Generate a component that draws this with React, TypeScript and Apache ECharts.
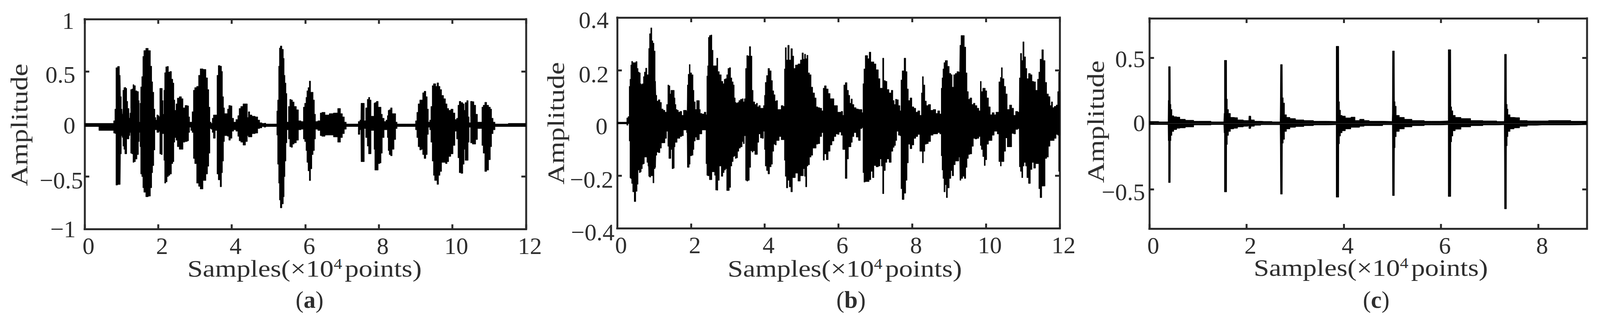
import React, { useEffect, useRef } from 'react';
import * as echarts from 'echarts';

// panel (a)
const samplesA = [0, 0.772, 0.804, 0.839, 0.863, 0.926, 0.968, 0.982, 1.017, 1.031, 1.049, 1.084, 1.101, 1.136, 1.154, 1.189, 1.227, 1.241, 1.259, 1.304, 1.322, 1.364, 1.399, 1.451, 1.476, 1.493, 1.514, 1.532, 1.574, 1.591, 1.626, 1.696, 1.766, 1.812, 1.836, 1.864, 1.899, 1.924, 1.949, 1.976, 2.018, 2.032, 2.053, 2.099, 2.124, 2.145, 2.162, 2.187, 2.222, 2.264, 2.292, 2.344, 2.379, 2.414, 2.439, 2.467, 2.502, 2.537, 2.607, 2.659, 2.694, 2.764, 2.817, 2.838, 2.869, 2.904, 2.939, 2.974, 3.009, 3.079, 3.114, 3.167, 3.272, 3.324, 3.359, 3.394, 3.422, 3.454, 3.482, 3.517, 3.587, 3.608, 3.657, 3.710, 3.734, 3.762, 3.790, 3.815, 3.867, 3.902, 3.937, 3.990, 4.025, 4.077,
  4.147, 4.182, 4.217, 4.270, 4.340, 4.410, 4.438, 4.463, 4.515, 4.585, 4.690, 4.725, 4.795, 4.848, 4.900, 4.953, 5.216, 5.233, 5.261, 5.286, 5.303, 5.338, 5.391, 5.415, 5.436, 5.461, 5.488, 5.513, 5.565, 5.590, 5.635, 5.670, 5.723, 5.793, 5.835, 5.933, 5.961, 6.003, 6.031, 6.055, 6.091, 6.126, 6.161, 6.196, 6.231, 6.266, 6.290, 6.388, 6.423, 6.476, 6.598, 6.703, 6.826, 6.931, 6.984, 7.036, 7.089, 7.141, 7.421, 7.456, 7.509, 7.519, 7.596, 7.614, 7.666, 7.701, 7.736, 7.771, 7.806, 7.859, 7.876, 7.901, 7.964, 7.999, 8.052, 8.069, 8.121, 8.167, 8.216, 8.244, 8.262, 8.297, 8.339, 8.384, 8.444, 8.472, 8.524, 8.979, 9.014, 9.049, 9.084, 9.137, 9.172, 9.207, 9.253, 9.302, 9.330, 9.364, 9.399, 9.428, 9.470, 9.498, 9.533, 9.558, 9.603, 9.645, 9.680, 9.732, 9.785, 9.838, 9.873, 9.925, 9.988, 10.048, 10.090, 10.135, 10.163, 10.205, 10.257, 10.310, 10.327, 10.362, 10.415, 10.443, 10.467, 10.520, 10.562, 10.607, 10.660, 10.702, 10.783, 10.818, 10.853, 10.905, 10.958, 11.011, 11.052, 11.080, 11.133, 11.185, 11.850, 12];
const upperA = [0.007, 0.007, 0.032, 0.143, 0.537, 0.550, 0.465, 0.261, 0.143, 0.094, 0.323, 0.348, 0.350, 0.341, 0.217, 0.149, 0.056, 0.106, 0.329, 0.335, 0.376, 0.366, 0.317, 0.310, 0.224, 0.019, 0.199, 0.354, 0.453, 0.645, 0.701, 0.722, 0.701, 0.552, 0.403, 0.304, 0.143, 0.063, 0.038, 0.087, 0.081, 0.069, 0.341, 0.341, 0.224, 0.094, 0.323, 0.490, 0.546, 0.550, 0.496, 0.502, 0.428, 0.391, 0.230, 0.131, 0.193, 0.248, 0.261, 0.242, 0.155, 0.178, 0.174, 0.069, 0.019, 0.019, 0.118, 0.323, 0.348, 0.360, 0.465, 0.527, 0.521, 0.441, 0.329, 0.162, 0.019, 0.007, 0.056, 0.087, 0.087, 0.465, 0.558, 0.552, 0.502, 0.261, 0.155, 0.100, 0.100, 0.143, 0.178, 0.174, 0.056, 0.019,
  0.044, 0.081, 0.149, 0.168, 0.193, 0.193, 0.063, 0.118, 0.087, 0.075, 0.069, 0.038, 0.013, 0.007, 0.009, 0.001, 0.001, 0.125, 0.230, 0.552, 0.725, 0.744, 0.713, 0.626, 0.465, 0.391, 0.292, 0.019, 0.168, 0.236, 0.230, 0.211, 0.168, 0.137, 0.032, 0.025, 0.162, 0.199, 0.255, 0.317, 0.348, 0.410, 0.304, 0.304, 0.230, 0.094, 0.025, 0.032, 0.106, 0.112, 0.087, 0.100, 0.106, 0.149, 0.100, 0.069, 0.019, 0.001, 0.001, 0.025, 0.038, 0.199, 0.199, 0.032, 0.155, 0.236, 0.255, 0.230, 0.075, 0.075, 0.199, 0.205, 0.217, 0.162, 0.162, 0.094, 0.056, 0.025, 0.038, 0.081, 0.131, 0.137, 0.155, 0.100, 0.100, 0.019, 0.001, 0.001, 0.032, 0.112, 0.193, 0.230, 0.230, 0.298, 0.313, 0.261, 0.143, 0.019, 0.038, 0.168, 0.366, 0.385, 0.385, 0.360, 0.393, 0.360, 0.329, 0.273, 0.242, 0.193, 0.149, 0.131, 0.143, 0.106, 0.044, 0.056, 0.180, 0.217, 0.205, 0.193, 0.131, 0.205, 0.224, 0.069, 0.013, 0.217, 0.214, 0.180, 0.094, 0.019, 0.019, 0.162, 0.180, 0.208, 0.180, 0.162, 0.143, 0.056, 0.019, 0.001, 0.007, 0.007];
const lowerA = [-0.024, -0.061, -0.086, -0.090, -0.582, -0.576, -0.576, -0.284, -0.111, -0.129, -0.210, -0.241, -0.284, -0.284, -0.142, -0.142, -0.111, -0.080, -0.278, -0.284, -0.365, -0.359, -0.334, -0.291, -0.167, -0.080, -0.216, -0.476, -0.501, -0.607, -0.650, -0.693, -0.687, -0.607, -0.464, -0.396, -0.247, -0.055, -0.055, -0.080, -0.080, -0.068, -0.284, -0.291, -0.092, -0.092, -0.346, -0.563, -0.551, -0.501, -0.489, -0.476, -0.377, -0.359, -0.173, -0.129, -0.154, -0.216, -0.241, -0.241, -0.173, -0.167, -0.160, -0.080, -0.030, -0.061, -0.080, -0.328, -0.377, -0.563, -0.594, -0.619, -0.538, -0.476, -0.402, -0.278, -0.043, -0.049, -0.080, -0.136, -0.061, -0.476, -0.532, -0.598, -0.464, -0.353, -0.167, -0.111, -0.111, -0.117, -0.154, -0.136, -0.068, -0.055,
  -0.068, -0.117, -0.160, -0.173, -0.201, -0.167, -0.111, -0.123, -0.123, -0.092, -0.086, -0.043, -0.037, -0.024, -0.030, -0.024, -0.024, -0.105, -0.383, -0.563, -0.724, -0.799, -0.761, -0.693, -0.501, -0.353, -0.179, -0.055, -0.142, -0.216, -0.222, -0.191, -0.179, -0.154, -0.055, -0.049, -0.142, -0.167, -0.253, -0.365, -0.446, -0.539, -0.427, -0.291, -0.253, -0.142, -0.049, -0.061, -0.111, -0.117, -0.105, -0.105, -0.123, -0.173, -0.129, -0.092, -0.049, -0.024, -0.024, -0.099, -0.055, -0.359, -0.359, -0.043, -0.129, -0.210, -0.284, -0.284, -0.061, -0.061, -0.241, -0.439, -0.439, -0.377, -0.371, -0.278, -0.129, -0.055, -0.055, -0.129, -0.253, -0.291, -0.303, -0.241, -0.148, -0.043, -0.024, -0.024, -0.055, -0.129, -0.216, -0.247, -0.241, -0.291, -0.328, -0.291, -0.099, -0.030, -0.055, -0.173, -0.353, -0.489, -0.538, -0.538, -0.575, -0.489, -0.452, -0.365, -0.365, -0.377, -0.359, -0.309, -0.284, -0.204, -0.068, -0.142, -0.322, -0.464, -0.470, -0.383, -0.241, -0.346, -0.346, -0.173, -0.030, -0.179, -0.191, -0.191, -0.148, -0.043, -0.043, -0.204, -0.278, -0.452, -0.439, -0.340, -0.216, -0.092, -0.055, -0.024, -0.024, -0.024];

// panel (b)
const samplesB = [0, 0.246, 0.271, 0.316, 0.334, 0.358, 0.379, 0.403, 0.438, 0.484, 0.526, 0.554, 0.582, 0.613, 0.641, 0.665, 0.700, 0.721, 0.753, 0.788, 0.822, 0.847, 0.861, 0.892, 0.927, 0.955, 0.980, 1.015, 1.043, 1.057, 1.092, 1.137, 1.182, 1.217, 1.277, 1.312, 1.364, 1.382, 1.417, 1.444, 1.469, 1.504, 1.539, 1.556, 1.581, 1.609, 1.643, 1.678, 1.724, 1.776, 1.818, 1.860, 1.895, 1.909, 1.940, 1.965, 1.993, 2.045, 2.069, 2.097, 2.139, 2.167, 2.220, 2.237, 2.272, 2.324, 2.394, 2.419, 2.440, 2.464, 2.482, 2.517, 2.559, 2.580, 2.622, 2.657, 2.681, 2.716, 2.744, 2.796, 2.849, 2.884, 2.919, 2.954, 2.981, 3.023, 3.058, 3.093, 3.128, 3.163, 3.187, 3.215, 3.243, 3.285, 3.313, 3.372, 3.407, 3.432, 3.467, 3.495, 3.530, 3.565, 3.600, 3.641, 3.669, 3.704, 3.756, 3.791, 3.816, 3.861, 3.903, 3.948, 3.983, 4.004, 4.025,
  4.071, 4.106, 4.158, 4.193, 4.228, 4.263, 4.298, 4.333, 4.368, 4.420, 4.473, 4.525, 4.543, 4.570, 4.605, 4.647, 4.682, 4.735, 4.770, 4.805, 4.857, 4.944, 4.990, 5.032, 5.066, 5.091, 5.125, 5.160, 5.189, 5.241, 5.276, 5.329, 5.374, 5.416, 5.468, 5.520, 5.573, 5.597, 5.643, 5.695, 5.748, 5.800, 5.852, 5.905, 5.957, 5.992, 6.045, 6.097, 6.132, 6.156, 6.212, 6.254, 6.289, 6.324, 6.359, 6.394, 6.446, 6.516, 6.568, 6.620, 6.655, 6.673, 6.708, 6.743, 6.778, 6.806, 6.858, 6.900, 6.945, 6.980, 7.057, 7.110, 7.144, 7.179, 7.214, 7.249, 7.295, 7.337, 7.406, 7.459, 7.494, 7.529, 7.564, 7.599, 7.651, 7.686, 7.703, 7.749, 7.809, 7.843, 7.878, 7.913, 7.966, 8.018, 8.070, 8.123, 8.175,
  8.238, 8.262, 8.287, 8.322, 8.367, 8.402, 8.472, 8.524, 8.612, 8.664, 8.717, 8.776, 8.797, 8.821, 8.846, 8.874, 8.915, 8.936, 8.978, 9.031, 9.066, 9.100, 9.146, 9.188, 9.240, 9.286, 9.300, 9.345, 9.390, 9.439, 9.467, 9.509, 9.537, 9.590, 9.642, 9.677, 9.729, 9.782, 9.834, 9.859, 9.887, 9.939, 9.964, 9.999, 10.044, 10.096, 10.138, 10.194, 10.253, 10.288, 10.323, 10.376, 10.404, 10.428, 10.463, 10.515, 10.550, 10.603, 10.673, 10.724, 10.777, 10.829, 10.900, 10.914, 10.952, 10.987, 11.012, 11.057, 11.092, 11.127, 11.179, 11.232, 11.267, 11.319, 11.371, 11.424, 11.441, 11.493, 11.535, 11.581, 11.626, 11.668, 11.720, 11.755, 11.790, 11.825, 11.878, 11.930, 11.958, 11.983, 12];
const upperB = [0.003, 0.003, 0.019, 0.024, 0.139, 0.166, 0.220, 0.234, 0.229, 0.229, 0.233, 0.207, 0.193, 0.190, 0.149, 0.146, 0.149, 0.176, 0.193, 0.208, 0.183, 0.183, 0.283, 0.339, 0.361, 0.312, 0.303, 0.273, 0.158, 0.105, 0.083, 0.088, 0.078, 0.053, 0.048, 0.041, 0.070, 0.144, 0.141, 0.110, 0.124, 0.124, 0.124, 0.095, 0.070, 0.051, 0.048, 0.041, 0.044, 0.029, 0.048, 0.048, 0.044, 0.144, 0.185, 0.222, 0.190, 0.183, 0.124, 0.080, 0.051, 0.085, 0.085, 0.051, 0.036, 0.034, 0.041, 0.031, 0.178, 0.217, 0.325, 0.332, 0.334, 0.276, 0.217, 0.217, 0.217, 0.246, 0.195, 0.183, 0.158, 0.149, 0.166, 0.168, 0.183, 0.207, 0.210, 0.171, 0.156, 0.144, 0.095, 0.078, 0.075, 0.078, 0.085, 0.090, 0.092, 0.080, 0.092, 0.207, 0.256, 0.254, 0.290, 0.254, 0.124, 0.080, 0.070, 0.075, 0.061, 0.066, 0.056, 0.056, 0.066, 0.105, 0.154,
  0.180, 0.207, 0.198, 0.161, 0.122, 0.107, 0.083, 0.085, 0.051, 0.051, 0.066, 0.063, 0.205, 0.286, 0.239, 0.295, 0.239, 0.282, 0.254, 0.207, 0.220, 0.224, 0.239, 0.266, 0.242, 0.261, 0.244, 0.257, 0.190, 0.183, 0.136, 0.114, 0.095, 0.061, 0.058, 0.056, 0.046, 0.132, 0.141, 0.129, 0.112, 0.092, 0.092, 0.066, 0.066, 0.041, 0.041, 0.044, 0.029, 0.144, 0.153, 0.124, 0.105, 0.075, 0.091, 0.070, 0.058, 0.053, 0.051, 0.051, 0.039, 0.149, 0.205, 0.256, 0.256, 0.244, 0.269, 0.232, 0.232, 0.224, 0.202, 0.168, 0.132, 0.132, 0.246, 0.161, 0.158, 0.127, 0.114, 0.124, 0.085, 0.070, 0.090, 0.088, 0.066, 0.046, 0.163, 0.198, 0.246, 0.195, 0.129, 0.085, 0.095, 0.061, 0.056, 0.041, 0.046,
  0.029, 0.114, 0.176, 0.144, 0.083, 0.066, 0.070, 0.048, 0.051, 0.036, 0.046, 0.034, 0.132, 0.171, 0.205, 0.229, 0.237, 0.237, 0.215, 0.188, 0.183, 0.136, 0.183, 0.188, 0.195, 0.193, 0.295, 0.332, 0.332, 0.288, 0.190, 0.119, 0.090, 0.095, 0.070, 0.075, 0.066, 0.056, 0.046, 0.158, 0.119, 0.132, 0.132, 0.122, 0.095, 0.061, 0.031, 0.039, 0.031, 0.041, 0.041, 0.156, 0.173, 0.210, 0.168, 0.139, 0.110, 0.051, 0.068, 0.056, 0.029, 0.044, 0.041, 0.171, 0.264, 0.237, 0.308, 0.251, 0.207, 0.168, 0.188, 0.183, 0.158, 0.156, 0.124, 0.166, 0.193, 0.242, 0.278, 0.237, 0.154, 0.110, 0.100, 0.066, 0.080, 0.058, 0.063, 0.068, 0.119, 0.193, 0.198];
const lowerB = [-0.004, -0.004, -0.009, -0.003, -0.069, -0.209, -0.212, -0.230, -0.262, -0.299, -0.260, -0.233, -0.179, -0.189, -0.186, -0.174, -0.157, -0.155, -0.130, -0.130, -0.150, -0.164, -0.203, -0.206, -0.201, -0.201, -0.228, -0.174, -0.169, -0.123, -0.111, -0.113, -0.096, -0.076, -0.076, -0.059, -0.032, -0.089, -0.135, -0.135, -0.101, -0.174, -0.172, -0.091, -0.074, -0.074, -0.059, -0.059, -0.052, -0.049, -0.027, -0.027, -0.037, -0.169, -0.169, -0.157, -0.125, -0.123, -0.101, -0.069, -0.054, -0.064, -0.064, -0.042, -0.042, -0.027, -0.027, -0.155, -0.199, -0.201, -0.201, -0.216, -0.216, -0.186, -0.186, -0.199, -0.255, -0.256, -0.218, -0.164, -0.203, -0.189, -0.179, -0.174, -0.257, -0.257, -0.245, -0.164, -0.147, -0.128, -0.125, -0.135, -0.133, -0.108, -0.096, -0.091, -0.071, -0.079, -0.049, -0.218, -0.221, -0.218, -0.169, -0.106, -0.111, -0.106, -0.120, -0.120, -0.074, -0.042, -0.057, -0.059, -0.032, -0.101, -0.164,
  -0.181, -0.194, -0.167, -0.157, -0.108, -0.081, -0.084, -0.067, -0.067, -0.052, -0.064, -0.064, -0.142, -0.203, -0.247, -0.218, -0.243, -0.262, -0.208, -0.208, -0.191, -0.221, -0.201, -0.201, -0.174, -0.203, -0.243, -0.164, -0.159, -0.130, -0.123, -0.096, -0.096, -0.081, -0.079, -0.052, -0.037, -0.142, -0.118, -0.140, -0.108, -0.084, -0.069, -0.052, -0.042, -0.044, -0.035, -0.047, -0.101, -0.101, -0.211, -0.137, -0.091, -0.091, -0.074, -0.052, -0.037, -0.054, -0.067, -0.022, -0.018, -0.189, -0.225, -0.223, -0.223, -0.223, -0.216, -0.184, -0.208, -0.162, -0.167, -0.164, -0.137, -0.164, -0.269, -0.181, -0.150, -0.137, -0.150, -0.108, -0.093, -0.086, -0.067, -0.032, -0.047, -0.049, -0.250, -0.291, -0.267, -0.218, -0.152, -0.081, -0.098, -0.084, -0.059, -0.052, -0.044,
  -0.108, -0.108, -0.152, -0.108, -0.081, -0.079, -0.071, -0.047, -0.042, -0.042, -0.037, -0.042, -0.125, -0.179, -0.211, -0.262, -0.235, -0.284, -0.247, -0.211, -0.181, -0.201, -0.159, -0.145, -0.145, -0.130, -0.218, -0.211, -0.203, -0.211, -0.169, -0.135, -0.120, -0.118, -0.089, -0.059, -0.061, -0.059, -0.052, -0.086, -0.101, -0.128, -0.162, -0.140, -0.081, -0.067, -0.067, -0.047, -0.032, -0.032, -0.042, -0.147, -0.164, -0.147, -0.147, -0.108, -0.057, -0.091, -0.091, -0.040, -0.042, -0.025, -0.022, -0.167, -0.184, -0.208, -0.164, -0.150, -0.164, -0.208, -0.230, -0.177, -0.150, -0.172, -0.155, -0.155, -0.250, -0.284, -0.240, -0.240, -0.135, -0.130, -0.089, -0.067, -0.067, -0.067, -0.059, -0.044, -0.047, -0.184, -0.184];

// panel (c)
const samplesC = [0, 0.383, 0.391, 0.396, 0.431, 0.436, 0.454, 0.476, 0.529, 0.595, 0.661, 0.820, 1.006, 1.530, 1.541, 1.544, 1.590, 1.594, 1.615, 1.642, 1.695, 1.774, 1.854, 2.013, 2.044, 2.050, 2.087, 2.097, 2.225, 2.357, 2.688, 2.696, 2.699, 2.736, 2.741, 2.768, 2.794, 2.847, 2.940, 3.073, 3.284, 3.470, 3.841, 3.843, 3.896, 3.902, 3.920, 3.947, 3.986, 4.079, 4.212, 4.252, 4.398, 4.437, 4.609, 4.993, 5.000, 5.004, 5.041, 5.047, 5.065, 5.092, 5.193, 5.298, 5.510, 5.802, 6.146, 6.148, 6.201, 6.207, 6.231, 6.257, 6.332, 6.491, 6.730, 6.994, 7.299, 7.304, 7.309, 7.346, 7.352, 7.371, 7.386, 7.457, 7.550, 7.683, 7.868, 8.080, 8.340, 9];
const upperC = [0.016, 0.013, 0.176, 0.433, 0.433, 0.146, 0.107, 0.059, 0.052, 0.049, 0.033, 0.025, 0.018, 0.013, 0.077, 0.481, 0.481, 0.186, 0.107, 0.077, 0.047, 0.045, 0.028, 0.023, 0.023, 0.057, 0.057, 0.028, 0.018, 0.016, 0.013, 0.166, 0.449, 0.449, 0.196, 0.156, 0.067, 0.047, 0.038, 0.028, 0.023, 0.018, 0.016, 0.588, 0.588, 0.166, 0.102, 0.062, 0.057, 0.043, 0.049, 0.023, 0.033, 0.023, 0.018, 0.016, 0.077, 0.552, 0.552, 0.166, 0.132, 0.062, 0.047, 0.033, 0.023, 0.018, 0.020, 0.562, 0.562, 0.127, 0.097, 0.062, 0.047, 0.038, 0.023, 0.020, 0.016, 0.028, 0.527, 0.527, 0.146, 0.110, 0.067, 0.047, 0.045, 0.023, 0.020, 0.020, 0.023, 0.018];
const lowerC = [-0.009, -0.009, -0.131, -0.450, -0.450, -0.131, -0.091, -0.061, -0.047, -0.037, -0.034, -0.027, -0.012, -0.009, -0.071, -0.521, -0.521, -0.160, -0.091, -0.061, -0.042, -0.037, -0.027, -0.022, -0.017, -0.039, -0.037, -0.022, -0.014, -0.010, -0.010, -0.180, -0.538, -0.538, -0.150, -0.121, -0.061, -0.042, -0.030, -0.024, -0.017, -0.012, -0.010, -0.561, -0.561, -0.155, -0.096, -0.071, -0.056, -0.042, -0.030, -0.030, -0.022, -0.017, -0.017, -0.010, -0.012, -0.549, -0.549, -0.185, -0.101, -0.061, -0.042, -0.027, -0.017, -0.012, -0.010, -0.556, -0.556, -0.140, -0.096, -0.056, -0.044, -0.027, -0.017, -0.012, -0.010, -0.150, -0.650, -0.650, -0.170, -0.100, -0.061, -0.042, -0.034, -0.022, -0.014, -0.012, -0.012, -0.010];

const xTicksWide = [0, 2, 4, 6, 8, 10, 12];
const xTicksNarrow = [0, 2, 4, 6, 8];
const yTicksA = [-1, -0.5, 0, 0.5, 1];
const yTicksB = [-0.4, -0.2, 0, 0.2, 0.4];
const yTicksC = [-0.5, 0, 0.5];

const serif = '"Liberation Serif", serif';
const axisColor = '#2b2b2b';
const textColor = '#2e2e2e';

const zip = (xs: number[], ys: number[]) => xs.map((x, i) => [x, ys[i]]);

const panels = [
  {
    grid: { left: 219, top: 49, width: 1142, height: 538 },
    xMax: 12, yMin: -1, yMax: 1, xTicks: xTicksWide, yTicks: yTicksA,
    xs: samplesA, upper: upperA, lower: lowerA,
    // per label: gap to the axis, shift down
    nudge: [[23, 0], [4, 9], [24, 3], [24, 7], [27, 4]],
    yName: [50, 320], xName: [788, 688], caption: [801, 768], letter: 'a',
  },
  {
    grid: { left: 1597, top: 45, width: 1145, height: 540 },
    xMax: 12, yMin: -0.4, yMax: 0.4, xTicks: xTicksWide, yTicks: yTicksB,
    xs: samplesB, upper: upperB, lower: lowerB,
    nudge: [[7, 10], [10, 10], [25, 8], [22, 10], [22, 6]],
    yName: [1439, 316], xName: [2186, 688], caption: [2202, 768], letter: 'b',
  },
  {
    grid: { left: 2974, top: 47, width: 1132, height: 539 },
    xMax: 9, yMin: -0.8, yMax: 0.8, xTicks: xTicksNarrow, yTicks: yTicksC,
    xs: samplesC, upper: upperC, lower: lowerC,
    nudge: [[11, 7], [11, -2], [11, 3]],
    yName: [2836, 312], xName: [3547, 686], caption: [3561, 768], letter: 'c',
  },
];

const App: React.FC = () => {
  const chartRef = useRef<HTMLDivElement>(null);

  useEffect(() => {
    if (!chartRef.current) return;
    const chart = echarts.init(chartRef.current, undefined, { renderer: 'svg' });

    const xAxis: any[] = [];
    const yAxis: any[] = [];
    const series: any[] = [];
    const graphic: any[] = [];

    const line = { show: true, onZero: false, lineStyle: { color: axisColor, width: 5, cap: 'square' } };

    panels.forEach((p, i) => {
      const tick = (values: number[]) => ({
        show: true, inside: true, length: 12, customValues: values,
        lineStyle: { color: axisColor, width: 5 },
      });
      const rich: any = {};
      p.nudge.forEach(([gap, down], k) => {
        rich['t' + k] = {
          fontFamily: serif, fontSize: 62, color: textColor,
          padding: [down > 0 ? down * 2 : 0, gap, down < 0 ? -down * 2 : 0, 0],
        };
      });

      xAxis.push({
        type: 'value', gridIndex: i, min: 0, max: p.xMax, position: 'bottom',
        splitLine: { show: false }, axisLine: line, axisTick: tick(p.xTicks),
        axisLabel: {
          customValues: p.xTicks, margin: 12, padding: [0, 0, 0, 20],
          fontFamily: serif, fontSize: 62, color: textColor,
          showMaxLabel: true, hideOverlap: false,
        },
      });
      xAxis.push({
        type: 'value', gridIndex: i, min: 0, max: p.xMax, position: 'top',
        splitLine: { show: false }, axisLine: line, axisTick: tick(p.xTicks),
        axisLabel: { show: false },
      });
      yAxis.push({
        type: 'value', gridIndex: i, min: p.yMin, max: p.yMax, position: 'left',
        splitLine: { show: false }, axisLine: line, axisTick: tick(p.yTicks),
        axisLabel: {
          customValues: p.yTicks, margin: 0, align: 'right', hideOverlap: false,
          rich,
          formatter: (v: number) => {
            const k = p.yTicks.indexOf(v);
            const txt = v < 0 ? '\u2212' + Math.abs(v) : String(v);
            return `{t${k}|${txt}}`;
          },
        },
      });
      yAxis.push({
        type: 'value', gridIndex: i, min: p.yMin, max: p.yMax, position: 'right',
        splitLine: { show: false }, axisLine: line, axisTick: tick(p.yTicks),
        axisLabel: { show: false },
      });

      [p.upper, p.lower].forEach((ys) => {
        series.push({
          type: 'line', xAxisIndex: i * 2, yAxisIndex: i * 2,
          data: zip(p.xs, ys), showSymbol: false, symbol: 'none', step: 'middle',
          lineStyle: { color: '#000', width: 1 },
          areaStyle: { color: '#000', opacity: 1 },
          z: 1,
        });
      });

      graphic.push({
        type: 'text', x: p.yName[0], y: p.yName[1], rotation: Math.PI / 2, scaleX: 1.185,
        style: { text: 'Amplitude', font: `62px ${serif}`, fill: textColor, align: 'center', verticalAlign: 'middle' },
      });
      graphic.push({
        type: 'text', x: p.xName[0], y: p.xName[1], scaleX: 1.155,
        style: {
          text: '{n|Samples(\u00d710}{s|4}{n|points)}',
          align: 'center', verticalAlign: 'middle', fill: textColor,
          rich: {
            n: { font: `62px ${serif}`, fill: textColor },
            s: { font: `38px ${serif}`, fill: textColor, verticalAlign: 'top', padding: [0, 6, 0, 0] },
          },
        },
      });
      graphic.push({
        type: 'text', x: p.caption[0], y: p.caption[1],
        style: {
          text: `{n|(}{b|${p.letter}}{n|)}`,
          align: 'center', verticalAlign: 'middle',
          rich: {
            n: { font: `62px ${serif}`, fill: textColor },
            b: { font: `bold 62px ${serif}`, fill: textColor },
          },
        },
      });
    });

    chart.setOption({
      animation: false,
      backgroundColor: '#fff',
      grid: panels.map((p) => ({ ...p.grid, containLabel: false })),
      xAxis,
      yAxis,
      series,
      graphic,
    });

    return () => {
      chart.dispose();
    };
  }, []);

  // the browser window can be narrower than the 4140px picture, so squeeze the chart to fit it
  const fit = Math.min(1, window.innerWidth / 4140);

  return (
    <div
      ref={chartRef}
      style={{
        position: 'absolute', left: 0, top: 0, width: '4140px', height: '833px',
        transform: `scaleX(${fit})`, transformOrigin: '0 0',
      }}
    />
  );
};

export default App;
